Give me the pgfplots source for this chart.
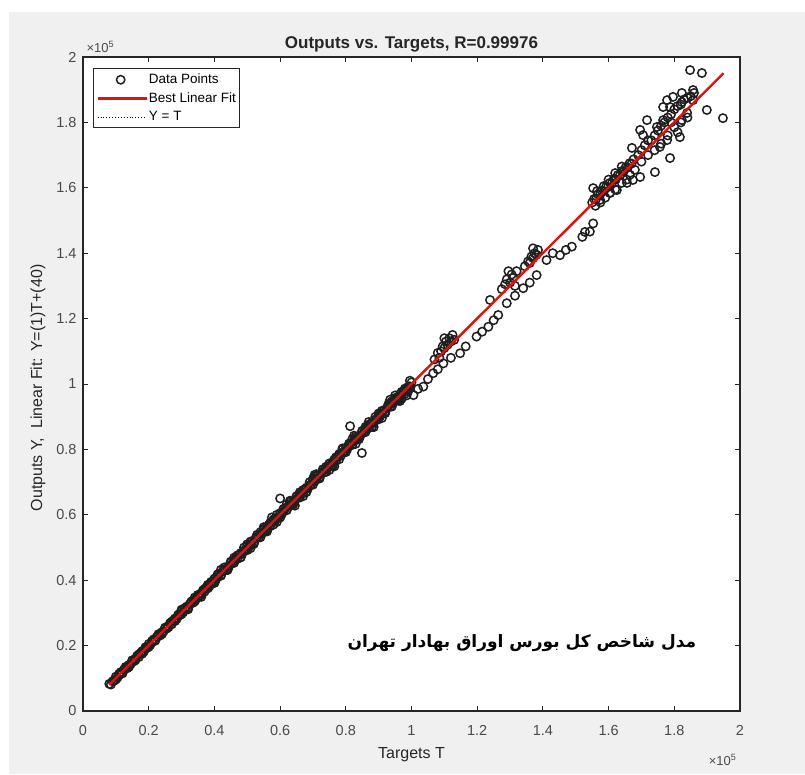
\documentclass[border=0pt]{standalone}
\usepackage{fontspec}
\setmainfont{Liberation Sans}
\newfontfamily\arabicfont[Script=Arabic]{DejaVu Sans}
\TeXXeTstate=1
\usepackage{pgfplots}
\pgfplotsset{compat=1.18}
\definecolor{figgray}{HTML}{F0F0F0}
\definecolor{axgray}{HTML}{262626}
\definecolor{ticklab}{HTML}{4A4A4A}
\definecolor{fitred}{RGB}{220,18,18}
\pgfplotsset{
  lineleg/.style={legend image code/.code={\draw[##1] (0pt,0pt) -- (49pt,0pt);}},
  markleg/.style={legend image code/.code={\path[draw=none] (0pt,0pt) -- (49pt,0pt); \path[##1, draw=none, only marks] plot coordinates {(23pt,0pt)};}},
}

\begin{document}
\begin{tikzpicture}[x=1pt,y=1pt]
\fill[white] (-83,-63) rectangle (722,711);
\fill[figgray] (-74,-63) rectangle (722,699);
\begin{axis}[
  at={(0pt,0pt)}, anchor=south west,
  scale only axis, width=657pt, height=654pt,
  xmin=0, xmax=2, ymin=0, ymax=2,
  clip=false, clip marker paths=true,
  axis background/.style={fill=white},
  xtick={0,0.2,0.4,0.6,0.8,1,1.2,1.4,1.6,1.8,2},
  ytick={0,0.2,0.4,0.6,0.8,1,1.2,1.4,1.6,1.8,2},
  xticklabels={0,0.2,0.4,0.6,0.8,1,1.2,1.4,1.6,1.8,2},
  yticklabels={0,0.2,0.4,0.6,0.8,1,1.2,1.4,1.6,1.8,2},
  tick align=inside, tick pos=both,
  major tick length=5pt,
  tick style={axgray, line width=0.9pt},
  axis line style={axgray, line width=1.3pt},
  ticklabel style={font=\fontsize{14.5}{16}\selectfont, text=ticklab},
  xticklabel style={yshift=-11pt},
  yticklabel style={xshift=-3pt},
  title={Outputs vs. Targets, R=0.99976},
  title style={font=\fontsize{17}{20}\selectfont\bfseries, text=axgray, at={(0.5,1)}, anchor=center, yshift=7pt},
  xlabel={Targets T},
  xlabel style={font=\fontsize{16}{18}\selectfont, text=axgray, at={(0.5,0)}, anchor=center, yshift=-44pt},
  ylabel={Outputs Y,\ \ Linear Fit: Y=(1)T+(40)},
  ylabel style={font=\fontsize{16}{18}\selectfont, text=axgray, at={(-0.0685,0.494)}, anchor=center},
  legend style={at={(0.0152,0.983)}, anchor=north west, draw=axgray, line width=1pt, fill=white,
    font=\fontsize{13.5}{15}\selectfont, text=black, inner xsep=3pt, inner ysep=3.5pt, row sep=3.5pt,
    nodes={inner xsep=1pt}},
  legend cell align=left,
]
% data points
\addplot[only marks, mark=o, mark size=4.2pt, mark options={line width=1.5pt, draw=black!88}, markleg]
coordinates {
(0.080,0.083)(0.085,0.081)(0.090,0.091)(0.095,0.093)(0.100,0.105)(0.105,0.102)(0.110,0.110)(0.115,0.119)(0.120,0.115)(0.125,0.127)
(0.130,0.133)(0.135,0.131)(0.140,0.141)(0.145,0.143)(0.150,0.155)(0.155,0.152)(0.160,0.160)(0.165,0.169)(0.170,0.165)(0.175,0.177)
(0.180,0.183)(0.185,0.181)(0.190,0.191)(0.195,0.193)(0.200,0.205)(0.205,0.202)(0.210,0.210)(0.215,0.219)(0.220,0.215)(0.225,0.227)
(0.230,0.233)(0.235,0.231)(0.240,0.241)(0.245,0.243)(0.250,0.255)(0.255,0.252)(0.260,0.260)(0.265,0.269)(0.270,0.265)(0.275,0.277)
(0.280,0.283)(0.285,0.281)(0.290,0.291)(0.295,0.293)(0.300,0.305)(0.305,0.302)(0.310,0.310)(0.315,0.319)(0.320,0.315)(0.325,0.327)
(0.330,0.333)(0.335,0.331)(0.340,0.341)(0.345,0.343)(0.350,0.355)(0.355,0.352)(0.360,0.360)(0.365,0.369)(0.370,0.365)(0.375,0.377)
(0.380,0.383)(0.385,0.381)(0.390,0.391)(0.395,0.393)(0.400,0.405)(0.405,0.402)(0.410,0.410)(0.415,0.419)(0.420,0.415)(0.425,0.427)
(0.430,0.433)(0.435,0.431)(0.440,0.441)(0.445,0.443)(0.450,0.455)(0.455,0.452)(0.460,0.460)(0.465,0.469)(0.470,0.465)(0.475,0.477)
(0.480,0.483)(0.485,0.481)(0.490,0.491)(0.495,0.493)(0.500,0.505)(0.505,0.502)(0.510,0.510)(0.515,0.519)(0.520,0.515)(0.525,0.527)
(0.530,0.533)(0.535,0.531)(0.540,0.541)(0.545,0.543)(0.550,0.555)(0.555,0.552)(0.560,0.560)(0.565,0.569)(0.570,0.565)(0.575,0.577)
(0.580,0.583)(0.585,0.581)(0.590,0.591)(0.595,0.593)(0.600,0.605)(0.605,0.602)(0.610,0.610)(0.615,0.619)(0.620,0.615)(0.625,0.627)
(0.630,0.633)(0.635,0.631)(0.640,0.641)(0.645,0.643)(0.650,0.655)(0.655,0.652)(0.660,0.660)(0.665,0.669)(0.670,0.665)(0.675,0.677)
(0.680,0.683)(0.685,0.681)(0.690,0.691)(0.695,0.693)(0.700,0.705)(0.705,0.702)(0.710,0.710)(0.715,0.719)(0.720,0.715)(0.725,0.727)
(0.730,0.733)(0.735,0.731)(0.740,0.741)(0.745,0.743)(0.750,0.755)(0.755,0.752)(0.760,0.760)(0.765,0.769)(0.770,0.765)(0.775,0.777)
(0.780,0.783)(0.785,0.781)(0.790,0.791)(0.795,0.793)(0.800,0.805)(0.805,0.802)(0.810,0.810)(0.815,0.819)(0.820,0.815)(0.825,0.827)
(0.830,0.833)(0.835,0.831)(0.840,0.841)(0.845,0.843)(0.850,0.855)(0.855,0.852)(0.860,0.860)(0.865,0.869)(0.870,0.865)(0.875,0.877)
(0.880,0.883)(0.885,0.881)(0.890,0.891)(0.895,0.893)(0.900,0.905)(0.905,0.902)(0.910,0.910)(0.915,0.919)(0.920,0.915)(0.925,0.927)
(0.930,0.933)(0.935,0.931)(0.940,0.941)(0.945,0.943)(0.950,0.955)(0.955,0.952)(0.960,0.960)(0.965,0.969)(0.970,0.965)(0.975,0.977)
(0.980,0.983)(0.985,0.981)(0.990,0.991)(0.995,0.993)(1.000,1.005)
(0.100,0.096)(0.110,0.114)(0.120,0.117)(0.130,0.135)(0.140,0.135)(0.150,0.154)(0.160,0.156)(0.170,0.173)(0.180,0.175)(0.190,0.195)
(0.200,0.196)(0.210,0.214)(0.220,0.217)(0.230,0.235)(0.240,0.235)(0.250,0.254)(0.260,0.256)(0.270,0.273)(0.280,0.275)(0.290,0.295)
(0.300,0.296)(0.310,0.314)(0.320,0.317)(0.330,0.335)(0.340,0.335)(0.350,0.354)(0.360,0.356)(0.370,0.373)(0.380,0.375)(0.390,0.395)
(0.400,0.392)(0.410,0.418)(0.420,0.414)(0.430,0.439)(0.440,0.431)(0.450,0.457)(0.460,0.453)(0.470,0.476)(0.480,0.470)(0.490,0.500)
(0.500,0.492)(0.510,0.518)(0.520,0.514)(0.530,0.539)(0.540,0.531)(0.550,0.557)(0.560,0.553)(0.570,0.576)(0.580,0.570)(0.590,0.600)
(0.600,0.592)(0.610,0.618)(0.620,0.614)(0.630,0.639)(0.640,0.631)(0.650,0.657)(0.660,0.653)(0.670,0.676)(0.680,0.670)(0.690,0.700)
(0.700,0.692)(0.710,0.718)(0.720,0.714)(0.730,0.739)(0.740,0.731)(0.750,0.757)(0.760,0.753)(0.770,0.776)(0.780,0.770)(0.790,0.800)
(0.800,0.792)(0.810,0.818)(0.820,0.814)(0.830,0.839)(0.840,0.831)(0.850,0.857)(0.860,0.853)(0.870,0.876)(0.880,0.870)(0.890,0.900)
(0.900,0.892)(0.910,0.918)(0.920,0.914)(0.930,0.939)(0.940,0.931)(0.950,0.957)(0.960,0.953)(0.970,0.976)(0.980,0.970)
(0.300,0.310)(0.320,0.311)(0.340,0.347)(0.360,0.349)(0.380,0.386)(0.400,0.392)(0.420,0.432)(0.440,0.434)(0.460,0.469)(0.480,0.470)
(0.500,0.510)(0.520,0.511)(0.540,0.547)(0.560,0.549)(0.580,0.586)(0.600,0.592)(0.620,0.632)(0.640,0.634)(0.660,0.669)(0.680,0.670)
(0.700,0.710)(0.720,0.711)(0.740,0.747)(0.760,0.749)(0.780,0.786)(0.800,0.792)(0.820,0.832)(0.840,0.834)(0.860,0.869)(0.880,0.870)
(0.900,0.910)(0.920,0.911)(0.940,0.947)(0.960,0.949)(0.980,0.986)(0.990,0.978)
(0.510,0.498)(0.550,0.562)(0.590,0.578)(0.630,0.643)(0.670,0.657)(0.710,0.724)(0.750,0.737)(0.790,0.803)(0.830,0.817)(0.870,0.884)
(0.910,0.896)(0.950,0.965)(0.970,0.955)
(0.575,0.592)(0.645,0.628)(0.705,0.722)(0.765,0.748)(0.825,0.842)(0.885,0.868)(0.935,0.952)(0.965,0.948)(0.995,1.010)(0.985,0.965)
(0.600,0.650)(0.813,0.871)(0.849,0.789)
(1.006,0.966)(1.020,0.985)(1.036,0.992)(1.050,1.015)(1.066,1.033)(1.080,1.045)(1.097,1.063)(1.120,1.080)(1.148,1.094)(1.165,1.115)
(1.198,1.145)(1.215,1.160)(1.234,1.175)(1.250,1.195)(1.264,1.211)(1.290,1.247)(1.315,1.270)(1.340,1.293)(1.360,1.310)(1.381,1.333)
(1.411,1.379)(1.430,1.400)(1.452,1.394)(1.470,1.410)(1.488,1.420)(1.520,1.450)(1.543,1.466)(1.553,1.491)(1.528,1.465)
(1.070,1.075)(1.080,1.095)(1.090,1.100)(1.095,1.115)(1.100,1.110)(1.105,1.130)(1.110,1.120)(1.115,1.140)(1.120,1.130)(1.125,1.150)
(1.130,1.135)(1.100,1.140)(1.085,1.080)
(1.239,1.257)
(1.275,1.290)(1.285,1.305)(1.290,1.320)(1.300,1.310)(1.305,1.335)(1.310,1.325)(1.320,1.345)(1.295,1.345)(1.315,1.300)
(1.345,1.360)(1.355,1.375)(1.360,1.370)(1.365,1.390)(1.370,1.385)(1.375,1.400)(1.380,1.395)(1.385,1.410)(1.370,1.415)
(1.550,1.555)(1.556,1.566)(1.562,1.566)(1.568,1.580)(1.574,1.578)(1.580,1.591)(1.586,1.590)(1.592,1.603)(1.598,1.602)(1.604,1.615)
(1.610,1.614)(1.616,1.627)(1.622,1.626)(1.628,1.639)(1.634,1.638)(1.640,1.651)(1.646,1.650)(1.652,1.663)(1.658,1.662)(1.664,1.675)
(1.670,1.674)(1.676,1.687)
(1.560,1.545)(1.575,1.555)(1.590,1.570)(1.605,1.585)(1.620,1.595)(1.640,1.615)(1.655,1.625)(1.665,1.640)(1.680,1.655)
(1.565,1.590)(1.585,1.605)(1.600,1.625)(1.620,1.645)(1.640,1.665)
(1.690,1.700)(1.700,1.715)(1.710,1.730)(1.720,1.745)(1.730,1.745)(1.740,1.760)(1.750,1.775)(1.760,1.790)(1.770,1.800)(1.780,1.815)
(1.790,1.825)(1.800,1.840)(1.810,1.850)(1.820,1.855)(1.830,1.870)(1.840,1.875)(1.850,1.880)(1.860,1.890)
(1.700,1.680)(1.720,1.700)(1.740,1.715)(1.760,1.735)(1.780,1.760)(1.800,1.785)(1.820,1.800)(1.840,1.815)(1.790,1.800)(1.810,1.770)
(1.848,1.960)(1.884,1.951)(1.857,1.899)(1.899,1.838)(1.948,1.813)(1.823,1.890)(1.778,1.868)(1.823,1.862)(1.787,1.847)(1.705,1.761)
(1.671,1.722)(1.741,1.648)(1.787,1.691)(1.817,1.755)(1.823,1.807)(1.839,1.829)(1.766,1.807)(1.747,1.786)(1.778,1.746)(1.756,1.725)
(1.674,1.624)(1.696,1.633)(1.656,1.615)(1.625,1.593)(1.604,1.584)(1.553,1.599)(1.574,1.563)(1.766,1.847)(1.796,1.878)(1.717,1.807)
(1.696,1.777)(1.857,1.868)
};
\addlegendentry{Data Points}
% Y = T (under the fit line)
\addplot[black, dotted, line width=1pt, forget plot] coordinates {(0.08,0.08) (1.95,1.95)};
% best linear fit
\addplot[fitred, line width=2.4pt, lineleg] coordinates {(0.08,0.0804) (1.95,1.9504)};
\addlegendentry{Best Linear Fit}
\addlegendimage{black, dotted, line width=0.9pt, lineleg}
\addlegendentry{Y = T}
% exponent labels
\node[anchor=west, font=\fontsize{13}{15}\selectfont, text=ticklab] at (rel axis cs:0,1) [yshift=10pt] {×10\textsuperscript{5}};
\node[anchor=east, font=\fontsize{13}{15}\selectfont, text=ticklab] at (rel axis cs:1,0) [yshift=-49pt] {×10\textsuperscript{5}};
% annotation
\node[font=\arabicfont\bfseries\fontsize{17}{21}\selectfont, text=black] at (axis cs:1.336,0.208)
  {\beginR مدل شاخص کل بورس اوراق بهادار تهران\endR};
\end{axis}
\end{tikzpicture}
\end{document}
